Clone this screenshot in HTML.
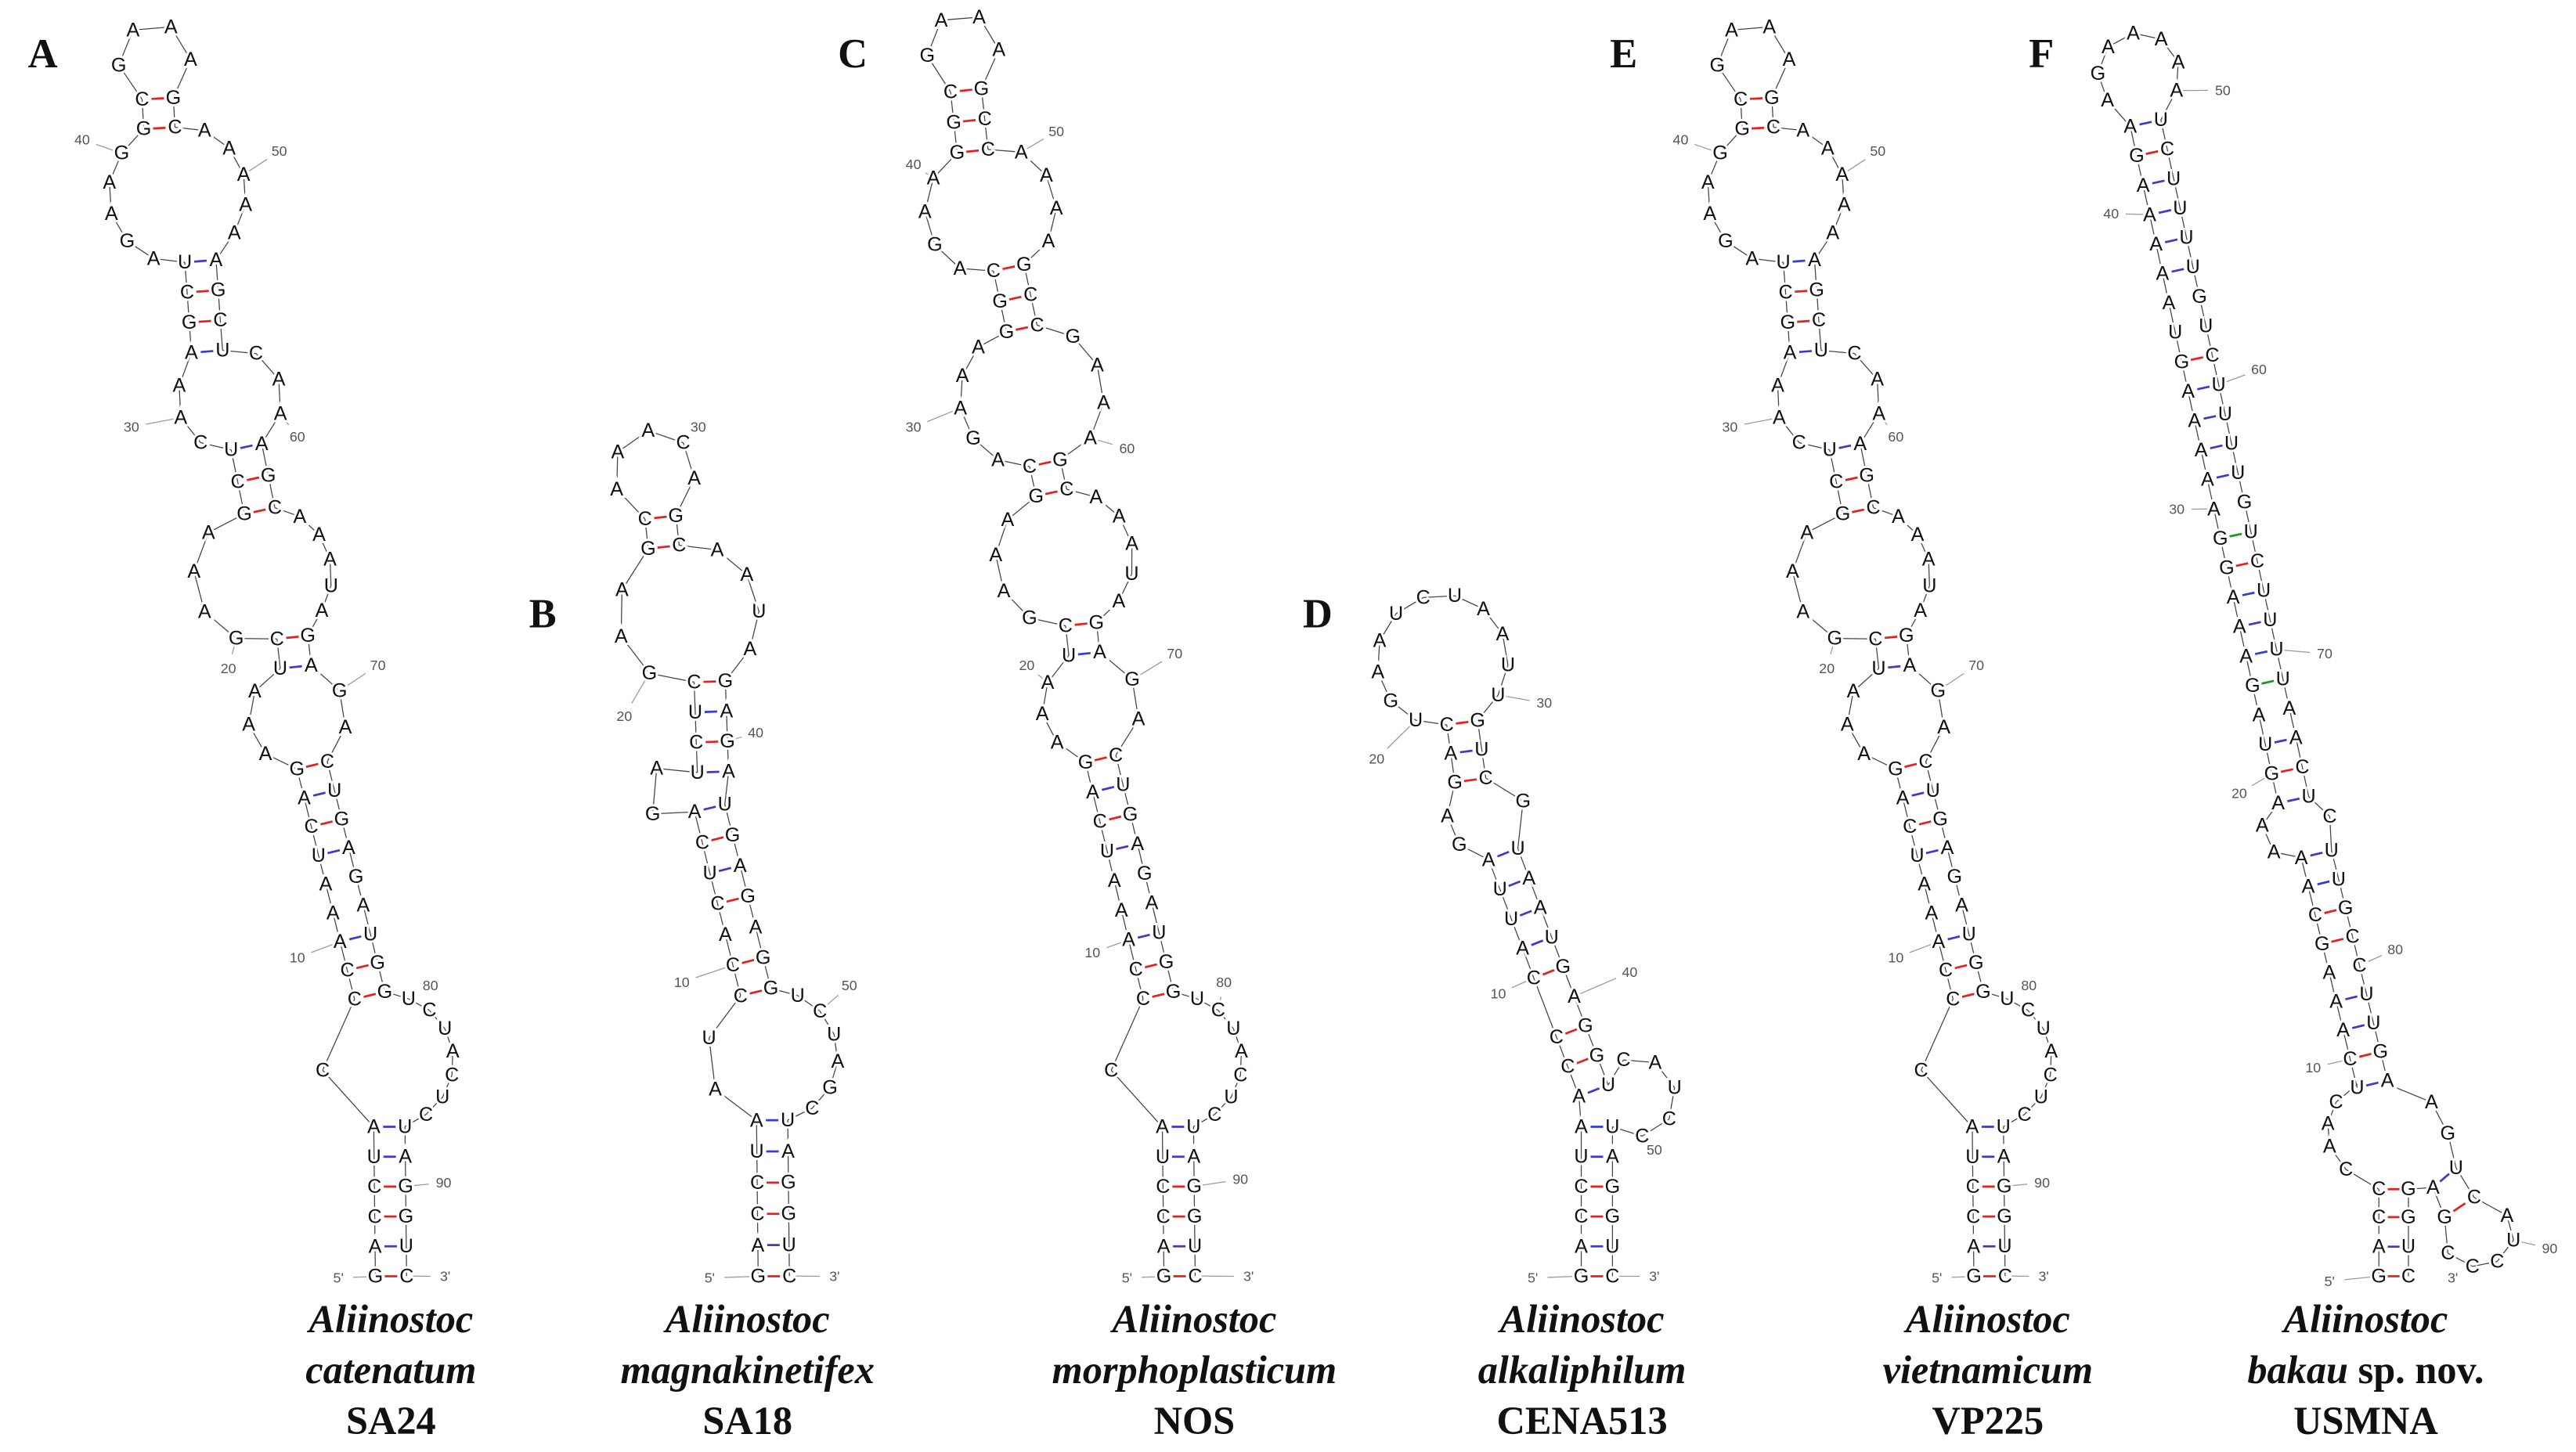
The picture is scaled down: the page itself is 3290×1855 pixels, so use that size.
<!DOCTYPE html>
<html><head><meta charset="utf-8">
<style>
html,body{margin:0;padding:0;background:#fff;}
svg{display:block;}
.nt{font-family:"Liberation Sans",sans-serif;font-size:12px;fill:#111;text-anchor:middle;dominant-baseline:central;stroke:#fff;stroke-width:2.8px;paint-order:stroke;}
.lb{font-family:"Liberation Sans",sans-serif;font-size:8.5px;fill:#555;text-anchor:middle;dominant-baseline:central;}
.sp{font-family:"Liberation Serif",serif;font-size:24px;font-weight:bold;text-anchor:middle;fill:#111;}
.pl{font-family:"Liberation Serif",serif;font-size:25px;font-weight:bold;fill:#111;}
</style></head>
<body>
<svg id="s" xmlns="http://www.w3.org/2000/svg" width="3290" height="1855" viewBox="0 0 1568 884" preserveAspectRatio="none">
<rect width="1568" height="884" fill="#fff"/>
<g id="bb"></g><g id="bd"></g><g id="tx"></g>
<text class="pl" x="17" y="41">A</text>
<text class="pl" x="322" y="382">B</text>
<text class="pl" x="510" y="41">C</text>
<text class="pl" x="793" y="382">D</text>
<text class="pl" x="980" y="41">E</text>
<text class="pl" x="1235" y="41">F</text>
<text class="sp" x="238" y="811" font-style="italic">Aliinostoc</text>
<text class="sp" x="238" y="842" font-style="italic">catenatum</text>
<text class="sp" x="238" y="873">SA24</text>
<text class="sp" x="455" y="811" font-style="italic">Aliinostoc</text>
<text class="sp" x="455" y="842" font-style="italic">magnakinetifex</text>
<text class="sp" x="455" y="873">SA18</text>
<text class="sp" x="727" y="811" font-style="italic">Aliinostoc</text>
<text class="sp" x="727" y="842" font-style="italic">morphoplasticum</text>
<text class="sp" x="727" y="873">NOS</text>
<text class="sp" x="963" y="811" font-style="italic">Aliinostoc</text>
<text class="sp" x="963" y="842" font-style="italic">alkaliphilum</text>
<text class="sp" x="963" y="873">CENA513</text>
<text class="sp" x="1210" y="811" font-style="italic">Aliinostoc</text>
<text class="sp" x="1210" y="842" font-style="italic">vietnamicum</text>
<text class="sp" x="1210" y="873">VP225</text>
<text class="sp" x="1440" y="811" font-style="italic">Aliinostoc</text>
<text class="sp" x="1440" y="842"><tspan font-style="italic">bakau</tspan> sp. nov.</text>
<text class="sp" x="1440" y="873">USMNA</text>
</svg>
<script>
(function(){
var NS="http://www.w3.org/2000/svg";
var BB=document.getElementById("bb"),BD=document.getElementById("bd"),TX=document.getElementById("tx");
function el(p,n,a,t){var e=document.createElementNS(NS,n);for(var k in a)e.setAttribute(k,a[k]);if(t!==undefined)e.textContent=t;p.appendChild(e);return e;}
function line(a,b,col,w,par){el(par||BB,"line",{x1:a.x.toFixed(1),y1:a.y.toFixed(1),x2:b.x.toFixed(1),y2:b.y.toFixed(1),stroke:col||"#444","stroke-width":w||0.6});}
function pcol(p){if(p=="GC"||p=="CG")return "#e8201c";if(p=="AU"||p=="UA")return "#3a3ad0";if(p=="GU"||p=="UG")return "#1a9a1a";return null;}
function build(segs,labels,dx){
  dx=dx||0;var nodes=[];
  function node(x,y,c){var n={x:x+dx,y:y,c:c};nodes.push(n);return n;}
  function P(x,y){return {x:x+dx,y:y};}
  var prev=null,pend=null;
  function loop(pt,nb,L){
    var cx=L[0]+dx,cy=L[1],r=L[2],ls=L[3],rs=L[4];
    var a0=Math.atan2(pt.L.y-cy,pt.L.x-cx),a1=Math.atan2(nb.L.y-cy,nb.L.x-cx);
    while(a1<=a0)a1+=2*Math.PI;
    var last=pt.L;
    for(var k=0;k<ls.length;k++){var a=a0+(a1-a0)*(k+1)/(ls.length+1);var n=node(cx-dx+r*Math.cos(a),cy+r*Math.sin(a),ls[k]);line(last,n);last=n;}
    line(last,nb.L);
    var b0=Math.atan2(pt.R.y-cy,pt.R.x-cx),b1=Math.atan2(nb.R.y-cy,nb.R.x-cx);
    while(b1>=b0)b1-=2*Math.PI;
    last=pt.R;
    for(k=0;k<rs.length;k++){a=b0+(b1-b0)*(k+1)/(rs.length+1);n=node(cx-dx+r*Math.cos(a),cy+r*Math.sin(a),rs[k]);line(last,n);last=n;}
    line(last,nb.R);
  }
  segs.forEach(function(s){
    if(s.s){
      var x0=s.s[0],y0=s.s[1],x1=s.s[2],y1=s.s[3],rows=s.s[4].split(" "),n=rows.length;
      var ddx=x1-x0,ddy=y1-y0,len=Math.sqrt(ddx*ddx+ddy*ddy);
      var ux=0,uy=-1;if(len>0.1){ux=ddx/len;uy=ddy/len;}
      var px=uy,py=-ux;
      var first=null,lastL=null,lastR=null,lastRow=null;
      for(var i=0;i<n;i++){
        var t=n>1?i/(n-1):0,cx=x0+ddx*t,cy=y0+ddy*t;
        var lp={x:cx+px*9.5+dx,y:cy+py*9.5},rp={x:cx-px*9.5+dx,y:cy-py*9.5};
        var lc=rows[i][0],rc=rows[i][1];
        var ln=lc!="-"?node(lp.x-dx,lp.y,lc):null, rn=rc!="-"?node(rp.x-dx,rp.y,rc):null;
        var col=pcol(lc+rc);
        if(col&&ln&&rn){line({x:lp.x+(rp.x-lp.x)*0.3,y:lp.y+(rp.y-lp.y)*0.3},{x:lp.x+(rp.x-lp.x)*0.7,y:lp.y+(rp.y-lp.y)*0.7},col,1.3,BD);}
        var row={L:ln||lp,R:rn||rp};
        if(ln){if(lastL)line(lastL,ln);lastL=ln;}
        if(rn){if(lastR)line(lastR,rn);lastR=rn;}
        if(i==0)first=row;lastRow=row;
      }
      if(pend&&prev){loop(prev,first,pend);}
      pend=null;prev=lastRow;
    } else if(s.l){pend=s.l;}
    else if(s.h){
      var cx=s.h[0]+dx,cy=s.h[1],r=s.h[2],str=s.h[3];
      var a0=Math.atan2(prev.L.y-cy,prev.L.x-cx),a1=Math.atan2(prev.R.y-cy,prev.R.x-cx);
      while(a1<=a0)a1+=2*Math.PI;
      var last=prev.L;
      for(var k=0;k<str.length;k++){var a=a0+(a1-a0)*(k+1)/(str.length+1);var nn=node(cx-dx+r*Math.cos(a),cy+r*Math.sin(a),str[k]);line(last,nn);last=nn;}
      line(last,prev.R);
    } else if(s.m){
      s.m.nodes.forEach(function(q){node(q[0],q[1],q[2]);});
      s.m.paths.forEach(function(pa){for(var i=1;i<pa.length;i++)line(P(pa[i-1][0],pa[i-1][1]),P(pa[i][0],pa[i][1]));});
      s.m.bonds.forEach(function(b){var a=P(b[0],b[1]),c=P(b[2],b[3]);line({x:a.x+(c.x-a.x)*0.3,y:a.y+(c.y-a.y)*0.3},{x:a.x+(c.x-a.x)*0.7,y:a.y+(c.y-a.y)*0.7},b[4],1.3,BD);});
      prev=null;
    }
  });
  labels.forEach(function(l){
    var lx=l[1]+dx,ly=l[2],best=null,bd=1e9;
    nodes.forEach(function(n){var d=(n.x-lx)*(n.x-lx)+(n.y-ly)*(n.y-ly);if(d<bd){bd=d;best=n;}});
    if(best){var d=Math.sqrt(bd),ux=(lx-best.x)/d,uy=(ly-best.y)/d;
      var e=d-(l[0].length>1?9:6);if(e>4)line({x:best.x+ux*4,y:best.y+uy*4},{x:best.x+ux*e,y:best.y+uy*e},"#999",0.6);}
    el(TX,"text",{"class":"lb",x:lx.toFixed(1),y:ly},l[0]);
  });
  nodes.forEach(function(n){el(TX,"text",{"class":"nt",x:n.x.toFixed(1),y:n.y.toFixed(1)},n.c);});
}
var A=[
 {s:[238,777,237,686,"GC AU CG CG UA AU"]},
 {l:[236,646,40,"C","CUCAUCU"]},
 {s:[225,606,190,466,"CG CG AU AA AG UA CG AU GC"]},
 {l:[181,436,30,"AAA","AG"]},
 {s:[180,406,178,388,"UA CG"]},
 {l:[160,350,42,"GAAA","AUAAA"]},
 {s:[158,311,150,272,"GC CG UA"]},
 {l:[140,243,32,"CAA","AAC"]},
 {s:[126,214,122,159,"AU GC CG UA"]},
 {l:[108,118,42,"AGAAG","AAAAA"]},
 {s:[97,78,96,60,"GC CG"]},
 {h:[94,36,22,"GAAA"]}
];
var Alab=[["40",50,85],["50",170,92],["30",80,260],["60",181,266],["20",139,407],["70",230,405],["10",181,583],["80",262,600],["90",270,720],["5'",206,778],["3'",271,777]];
build(A,Alab,0);
build(A,Alab,973);
var C=[
 {s:[718,777,717,686,"GC AU CG CG UA AU"]},
 {l:[716,646,40,"C","CUCAUCU"]},
 {s:[705,606,670,462,"CG CG AU AA AG UA CG AU GC"]},
 {l:[664,430,30,"AAA","AG"]},
 {s:[660,398,658,380,"UA CG"]},
 {l:[648,340,42,"GAAA","AUAAA"]},
 {s:[640,300,636,282,"GC CG"]},
 {l:[628,241,44,"AGAAA","AAAG"]},
 {s:[622,200,614,163,"GC GC CG"]},
 {l:[603,128,40,"AGAA","AAAA"]},
 {s:[592,92,588,55,"GC GC CG"]},
 {h:[586,30,22,"GAAA"]}
];
build(C,[["40",556,100],["50",643,80],["30",556,260],["60",686,273],["20",625,405],["70",715,398],["10",665,580],["80",745,598],["90",755,718],["5'",686,778],["3'",760,777]],0);
var B=[
 {s:[471,777,470,682,"GC AU CG CG UA AU"]},
 {l:[470,643,40,"AU","CGAUCU"]},
 {s:[460,604,432,492,"CG CG AA CG UA CG AU"]},
 {l:[425,484,30,"GA",""]},
 {s:[434,470,432,415,"UA CG UA CG"]},
 {l:[419,374,43,"GAA","AUAA"]},
 {s:[404,333,402,315,"GC CG"]},
 {h:[398,287,25,"AAACA"]}
];
build(B,[["30",425,260],["20",380,436],["40",460,446],["10",415,598],["50",517,600],["5'",432,778],["3'",508,777]],0);
var D=[
 {s:[972,777,972,686,"GC AU CG CG UA AU"]},
 {l:[996,668,24,"","CCUAC"]},
 {s:[970,664,915,520,"AU CG CG -A CG AU UA UA AU"]},
 {l:[905,497,24,"GA","G"]},
 {s:[895,475,890,440,"GC AU CG"]},
 {h:[878,402,40,"UGAAUCUAAUU"]}
];
build(D,[["20",838,462],["30",940,428],["10",912,605],["40",992,592],["50",1007,700],["5'",933,778],["3'",1007,777]],0);
var F=[
 {m:{nodes:[[1448,777,"G"],[1466,777,"C"],[1448,759,"A"],[1466,759,"U"],[1448,741,"C"],[1466,741,"G"],[1448,724,"C"],[1466,724,"G"],
   [1428,712,"C"],[1418,698,"A"],[1417,684,"A"],[1422,671,"C"],
   [1480,671,"A"],[1490,690,"G"],[1495,711,"U"],[1506,729,"C"],[1526,740,"A"],[1530,755,"U"],[1520,768,"C"],[1505,771,"C"],[1490,763,"C"],[1488,741,"G"],[1481,723,"A"]],
   paths:[[[1448,777],[1448,759],[1448,741],[1448,724],[1428,712],[1418,698],[1417,684],[1422,671],[1435,660]],
          [[1453,660],[1480,671],[1490,690],[1495,711],[1506,729],[1526,740],[1530,755],[1520,768],[1505,771],[1490,763],[1488,741],[1481,723],[1466,724],[1466,741],[1466,759],[1466,777]]],
   bonds:[[1448,777,1466,777,"#e8201c"],[1448,759,1466,759,"#3a3ad0"],[1448,741,1466,741,"#e8201c"],[1448,724,1466,724,"#e8201c"],[1495,711,1481,723,"#3a3ad0"],[1506,729,1488,741,"#e8201c"]]}},
 {s:[1444,660,1410,520,"UA CG AU AU AC GC CG AU AU"]},
 {l:[1398,503,21,"AA","C"]},
 {s:[1396,487,1306,75,"AU GC UA AA GU AU AU AU GC GU AG AU AU AU AU GC UU AG AU AU AU AU GC AU"]},
 {h:[1302,45,25,"AGAAAAA"]}
];
build(F,[["50",1353,55],["40",1285,130],["60",1375,225],["30",1325,310],["70",1415,398],["20",1363,483],["80",1458,578],["10",1408,650],["90",1552,760],["5'",1418,780],["3'",1493,778]],0);
})();
</script>
</body></html>
